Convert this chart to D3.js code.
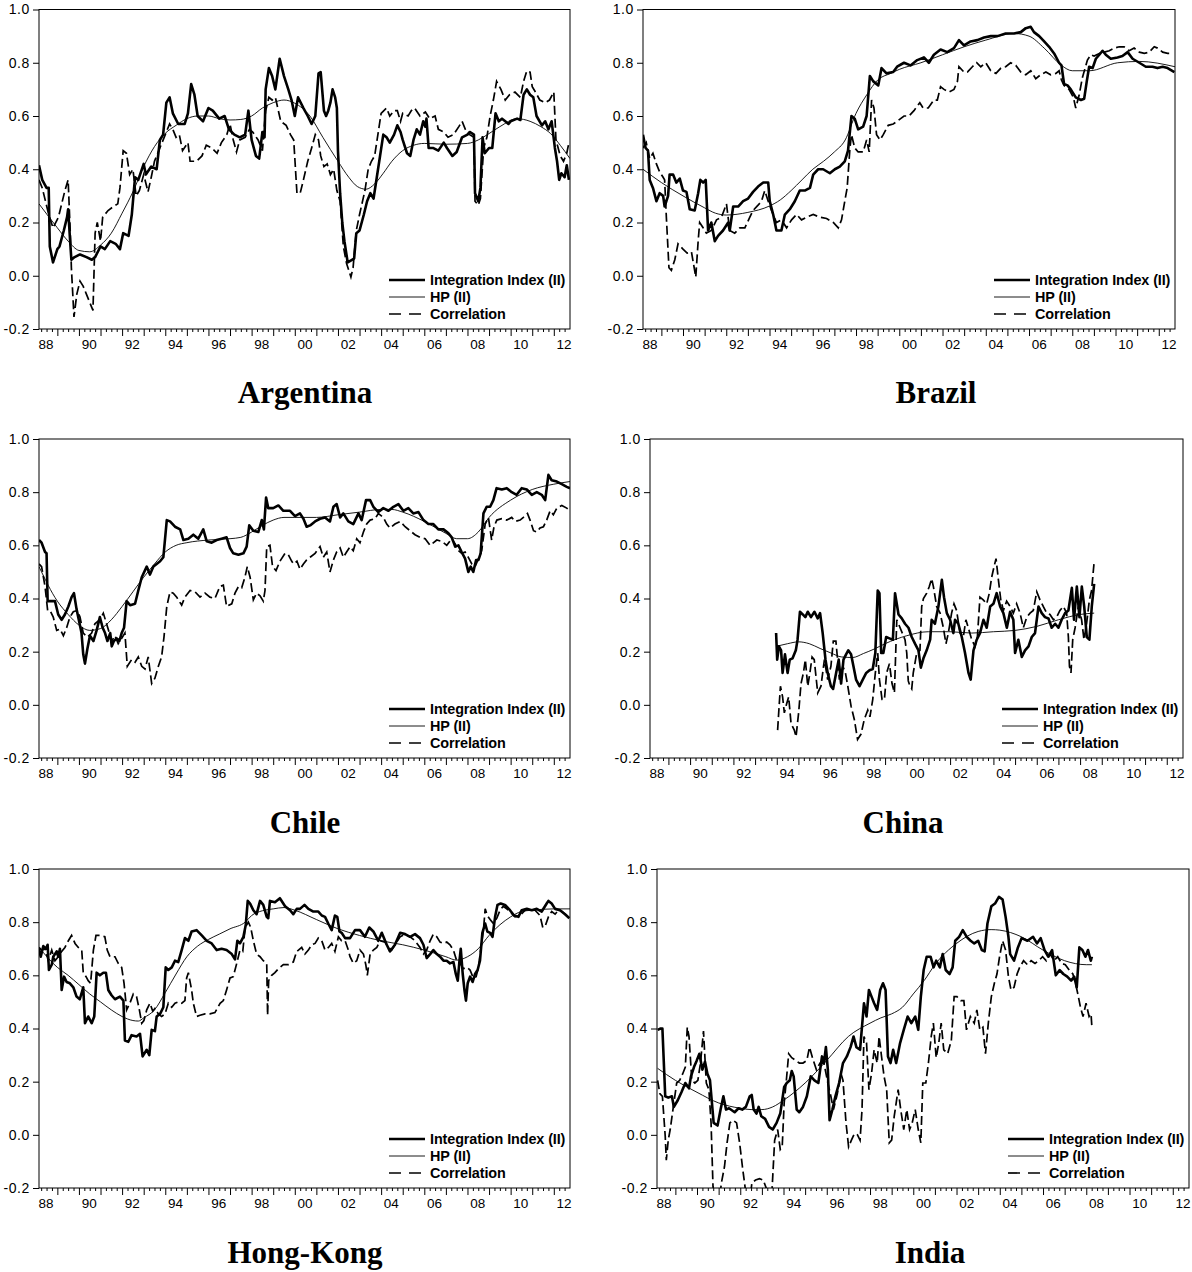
<!DOCTYPE html>
<html>
<head>
<meta charset="utf-8">
<script src="https://cdn.jsdelivr.net/npm/d3@7"></script>
<style>
  body { margin: 0; background: #fff; }
</style>
</head>
<body>
<svg id="chart" width="1192" height="1272"></svg>
<script>
// values, as [decimal year, value]

const argentinaII = [[1988.15,.415],[1988.3,.36],[1988.5,.33],[1988.6,.33],[1988.65,.11],[1988.8,.05],[1989.0,.10],[1989.1,.11],[1989.3,.17],[1989.45,.22],[1989.5,.25],[1989.6,.12],[1989.65,.06],[1989.8,.07],[1990.05,.08],[1990.35,.07],[1990.6,.06],[1990.75,.07],[1991.0,.11],[1991.2,.10],[1991.45,.13],[1991.7,.12],[1991.9,.10],[1992.05,.16],[1992.3,.15],[1992.45,.23],[1992.6,.37],[1992.75,.36],[1993.0,.42],[1993.1,.38],[1993.35,.41],[1993.6,.40],[1993.75,.51],[1993.9,.53],[1994.05,.65],[1994.2,.67],[1994.35,.61],[1994.6,.57],[1994.9,.57],[1995.05,.61],[1995.2,.72],[1995.35,.68],[1995.5,.60],[1995.75,.58],[1996.0,.63],[1996.2,.62],[1996.5,.59],[1996.75,.60],[1996.95,.55],[1997.2,.53],[1997.45,.52],[1997.7,.53],[1997.85,.62],[1998.0,.51],[1998.2,.45],[1998.35,.44],[1998.5,.54],[1998.6,.52],[1998.65,.70],[1998.8,.78],[1998.95,.75],[1999.1,.70],[1999.3,.815],[1999.5,.75],[1999.7,.70],[1999.85,.66],[2000.0,.60],[2000.15,.67],[2000.4,.63],[2000.6,.60],[2000.78,.57],[2000.95,.60],[2001.1,.76],[2001.2,.765],[2001.35,.62],[2001.45,.60],[2001.55,.62],[2001.65,.65],[2001.75,.70],[2001.87,.67],[2001.95,.63],[2002.0,.47],[2002.1,.31],[2002.2,.20],[2002.3,.13],[2002.45,.05],[2002.65,.06],[2002.75,.065],[2002.85,.16],[2003.0,.17],[2003.2,.23],[2003.35,.28],[2003.5,.31],[2003.65,.29],[2003.8,.37],[2003.95,.45],[2004.1,.53],[2004.25,.52],[2004.4,.50],[2004.6,.53],[2004.75,.565],[2004.9,.54],[2005.0,.51],[2005.2,.46],[2005.35,.45],[2005.5,.51],[2005.65,.55],[2005.8,.53],[2005.95,.58],[2006.05,.56],[2006.1,.59],[2006.2,.48],[2006.4,.48],[2006.65,.47],[2006.9,.50],[2007.05,.48],[2007.3,.45],[2007.5,.465],[2007.75,.52],[2008.0,.53],[2008.1,.54],[2008.3,.53],[2008.35,.31],[2008.5,.28],[2008.6,.33],[2008.7,.52],[2008.8,.46],[2009.0,.48],[2009.15,.48],[2009.3,.61],[2009.45,.58],[2009.6,.59],[2009.75,.58],[2009.9,.57],[2010.0,.58],[2010.3,.59],[2010.45,.585],[2010.6,.68],[2010.75,.70],[2010.9,.68],[2011.05,.67],[2011.2,.60],[2011.45,.565],[2011.6,.58],[2011.75,.55],[2011.9,.58],[2012.05,.48],[2012.15,.43],[2012.25,.36],[2012.35,.385],[2012.5,.37],[2012.6,.415],[2012.7,.36]];
const argentinaHP = [[1988.15,.27],[1989,.18],[1989.5,.13],[1990,.095],[1990.5,.09],[1991,.115],[1991.5,.16],[1992,.235],[1992.5,.315],[1993,.41],[1993.5,.485],[1994,.535],[1994.5,.565],[1995,.59],[1995.5,.60],[1996,.60],[1996.5,.59],[1997,.585],[1997.5,.587],[1998,.60],[1998.5,.63],[1999,.65],[1999.5,.66],[2000,.648],[2000.7,.60],[2001.3,.52],[2002,.43],[2002.5,.37],[2002.9,.335],[2003.3,.325],[2003.7,.345],[2004.1,.385],[2004.5,.43],[2005,.47],[2005.5,.49],[2006,.497],[2007,.494],[2008,.497],[2008.5,.51],[2009,.534],[2009.5,.56],[2010.3,.59],[2010.9,.58],[2011.4,.56],[2011.85,.534],[2012.3,.49],[2012.75,.44]];
const argentinaCorr = [[1988.15,.36],[1988.3,.33],[1988.45,.28],[1988.6,.23],[1988.8,.18],[1989.05,.22],[1989.2,.27],[1989.35,.32],[1989.5,.36],[1989.6,.16],[1989.65,.03],[1989.77,-.155],[1989.9,-.07],[1990.05,-.02],[1990.2,-.04],[1990.35,-.07],[1990.5,-.10],[1990.65,-.13],[1990.75,.16],[1990.85,.20],[1991.0,.13],[1991.1,.22],[1991.35,.245],[1991.6,.26],[1991.8,.27],[1991.9,.33],[1992.05,.47],[1992.2,.46],[1992.35,.38],[1992.5,.40],[1992.65,.30],[1992.8,.32],[1993.0,.38],[1993.2,.315],[1993.35,.37],[1993.5,.43],[1993.75,.48],[1994.0,.53],[1994.2,.57],[1994.35,.55],[1994.5,.52],[1994.65,.53],[1994.8,.47],[1995.05,.50],[1995.15,.43],[1995.45,.43],[1995.7,.45],[1995.9,.49],[1996.15,.48],[1996.4,.46],[1996.6,.50],[1996.85,.53],[1997.0,.57],[1997.15,.51],[1997.3,.465],[1997.45,.51],[1997.7,.52],[1997.9,.55],[1998.05,.54],[1998.3,.51],[1998.5,.47],[1998.65,.62],[1998.8,.67],[1998.95,.66],[1999.1,.67],[1999.35,.58],[1999.6,.565],[1999.8,.53],[1999.95,.51],[2000.1,.31],[2000.25,.31],[2000.4,.36],[2000.6,.43],[2000.78,.48],[2000.95,.53],[2001.1,.51],[2001.2,.45],[2001.35,.41],[2001.5,.42],[2001.65,.38],[2001.8,.40],[2001.95,.32],[2002.1,.28],[2002.25,.11],[2002.4,.046],[2002.6,-.005],[2002.7,.03],[2002.85,.17],[2003.0,.23],[2003.25,.32],[2003.4,.40],[2003.55,.43],[2003.7,.45],[2003.85,.53],[2004.0,.61],[2004.25,.63],[2004.4,.60],[2004.6,.62],[2004.75,.62],[2004.9,.58],[2005.0,.61],[2005.25,.60],[2005.4,.62],[2005.55,.63],[2005.8,.60],[2006.05,.615],[2006.25,.59],[2006.5,.60],[2006.65,.55],[2006.9,.54],[2007.1,.52],[2007.35,.53],[2007.6,.56],[2007.75,.58],[2007.9,.55],[2008.1,.53],[2008.3,.52],[2008.35,.28],[2008.5,.265],[2008.6,.29],[2008.75,.48],[2008.9,.52],[2009.05,.60],[2009.2,.66],[2009.35,.73],[2009.55,.70],[2009.75,.66],[2009.95,.68],[2010.2,.69],[2010.45,.67],[2010.6,.73],[2010.75,.77],[2010.9,.765],[2011.0,.71],[2011.15,.69],[2011.35,.66],[2011.6,.65],[2011.8,.66],[2012.0,.69],[2012.1,.51],[2012.3,.45],[2012.45,.43],[2012.6,.46],[2012.7,.50]];

const brazilII = [[1988.15,.53],[1988.27,.48],[1988.38,.47],[1988.46,.36],[1988.61,.33],[1988.77,.28],[1988.92,.31],[1989.08,.30],[1989.15,.26],[1989.31,.30],[1989.38,.38],[1989.54,.38],[1989.69,.35],[1989.85,.365],[1990.0,.32],[1990.16,.315],[1990.31,.25],[1990.54,.245],[1990.7,.31],[1990.8,.36],[1990.93,.35],[1991.05,.36],[1991.16,.17],[1991.31,.20],[1991.47,.13],[1991.62,.15],[1991.85,.17],[1992.09,.20],[1992.16,.17],[1992.32,.26],[1992.55,.26],[1992.78,.28],[1993.01,.29],[1993.24,.315],[1993.47,.335],[1993.71,.35],[1993.94,.35],[1994.01,.28],[1994.17,.23],[1994.32,.17],[1994.55,.17],[1994.71,.23],[1994.94,.25],[1995.17,.28],[1995.4,.32],[1995.63,.32],[1995.87,.33],[1996.02,.38],[1996.25,.40],[1996.48,.40],[1996.79,.385],[1997.02,.40],[1997.25,.41],[1997.48,.43],[1997.63,.47],[1997.79,.60],[1997.94,.59],[1998.1,.55],[1998.33,.56],[1998.49,.60],[1998.64,.75],[1998.8,.73],[1999.03,.715],[1999.18,.78],[1999.41,.76],[1999.72,.765],[1999.9,.785],[2000.22,.80],[2000.52,.79],[2000.83,.81],[2001.14,.82],[2001.37,.80],[2001.6,.83],[2001.91,.85],[2002.22,.84],[2002.53,.855],[2002.76,.885],[2002.99,.865],[2003.3,.88],[2003.61,.885],[2003.92,.895],[2004.23,.90],[2004.54,.90],[2004.92,.91],[2005.31,.91],[2005.62,.915],[2005.85,.93],[2006.08,.935],[2006.23,.915],[2006.47,.90],[2006.7,.88],[2006.93,.86],[2007.16,.835],[2007.39,.80],[2007.5,.79],[2007.62,.72],[2007.78,.715],[2007.93,.70],[2008.16,.67],[2008.4,.66],[2008.55,.665],[2008.67,.73],[2008.78,.785],[2008.94,.78],[2009.09,.815],[2009.25,.83],[2009.4,.845],[2009.55,.83],[2009.78,.815],[2010.09,.82],[2010.32,.825],[2010.56,.84],[2010.79,.815],[2011.1,.80],[2011.4,.785],[2011.71,.785],[2011.94,.78],[2012.18,.785],[2012.41,.78],[2012.72,.765]];
const brazilHP = [[1988.15,.40],[1989,.35],[1990,.30],[1991,.255],[1991.5,.235],[1992,.228],[1993,.238],[1994,.262],[1994.5,.285],[1995,.32],[1995.5,.36],[1996,.40],[1996.5,.43],[1997,.465],[1997.5,.51],[1998,.61],[1998.5,.68],[1999,.735],[1999.6,.76],[2000,.775],[2001,.80],[2002,.83],[2003,.86],[2004,.885],[2005.3,.91],[2006,.90],[2006.7,.855],[2007.5,.79],[2008,.77],[2008.8,.77],[2010.1,.80],[2011.1,.805],[2012.75,.785]];
const brazilCorr = [[1988.15,.48],[1988.3,.50],[1988.46,.44],[1988.61,.46],[1988.77,.42],[1988.92,.39],[1989.08,.37],[1989.15,.36],[1989.23,.22],[1989.35,.03],[1989.46,.02],[1989.62,.06],[1989.77,.12],[1990.0,.10],[1990.19,.085],[1990.39,.09],[1990.59,-.005],[1990.7,.13],[1990.77,.20],[1990.93,.18],[1991.08,.16],[1991.31,.17],[1991.55,.21],[1991.78,.22],[1992.01,.27],[1992.16,.17],[1992.39,.16],[1992.63,.18],[1992.86,.18],[1993.09,.22],[1993.24,.245],[1993.47,.265],[1993.63,.28],[1993.78,.32],[1993.94,.28],[1994.09,.245],[1994.32,.20],[1994.55,.21],[1994.79,.18],[1995.02,.21],[1995.25,.23],[1995.48,.21],[1995.71,.22],[1996.02,.23],[1996.33,.22],[1996.64,.215],[1996.95,.20],[1997.18,.18],[1997.33,.21],[1997.48,.28],[1997.59,.33],[1997.72,.48],[1997.79,.53],[1997.94,.48],[1998.1,.465],[1998.33,.465],[1998.49,.51],[1998.61,.465],[1998.72,.66],[1998.83,.63],[1998.95,.53],[1999.11,.51],[1999.26,.53],[1999.49,.565],[1999.72,.57],[1999.9,.58],[2000.22,.60],[2000.45,.60],[2000.68,.62],[2000.95,.65],[2001.1,.63],[2001.34,.63],[2001.6,.66],[2001.76,.66],[2001.91,.71],[2002.07,.70],[2002.3,.69],[2002.53,.70],[2002.69,.73],[2002.76,.785],[2002.99,.765],[2003.15,.765],[2003.38,.785],[2003.58,.80],[2003.77,.785],[2004.0,.80],[2004.23,.77],[2004.47,.76],[2004.7,.78],[2004.92,.785],[2005.15,.80],[2005.39,.79],[2005.62,.765],[2005.85,.755],[2006.08,.77],[2006.31,.74],[2006.54,.755],[2006.78,.765],[2007.0,.755],[2007.24,.76],[2007.39,.77],[2007.5,.735],[2007.62,.715],[2007.85,.70],[2008.05,.67],[2008.16,.63],[2008.32,.68],[2008.47,.745],[2008.7,.81],[2008.86,.83],[2009.01,.825],[2009.25,.835],[2009.48,.84],[2009.71,.845],[2009.94,.855],[2010.17,.86],[2010.4,.86],[2010.63,.845],[2010.86,.855],[2011.1,.84],[2011.33,.835],[2011.56,.84],[2011.79,.86],[2011.94,.855],[2012.18,.84],[2012.41,.835],[2012.64,.835]];

const chileII = [[1988.15,.62],[1988.27,.61],[1988.43,.575],[1988.5,.57],[1988.55,.39],[1988.74,.39],[1988.89,.39],[1989.04,.34],[1989.2,.32],[1989.35,.34],[1989.51,.37],[1989.66,.405],[1989.77,.42],[1989.89,.36],[1990.02,.31],[1990.12,.27],[1990.2,.19],[1990.28,.155],[1990.39,.21],[1990.51,.26],[1990.67,.24],[1990.82,.28],[1990.97,.33],[1991.1,.29],[1991.21,.27],[1991.32,.24],[1991.45,.27],[1991.52,.22],[1991.62,.24],[1991.75,.25],[1991.87,.24],[1991.98,.27],[1992.09,.29],[1992.21,.39],[1992.37,.375],[1992.6,.38],[1992.75,.43],[1992.91,.48],[1993.14,.52],[1993.29,.49],[1993.45,.52],[1993.6,.53],[1993.76,.54],[1993.91,.555],[1994.07,.695],[1994.22,.69],[1994.45,.67],[1994.69,.66],[1994.84,.62],[1995.07,.625],[1995.3,.64],[1995.53,.625],[1995.76,.66],[1995.92,.615],[1996.15,.61],[1996.38,.62],[1996.61,.625],[1996.84,.63],[1997.0,.59],[1997.15,.57],[1997.39,.565],[1997.62,.57],[1997.77,.595],[1997.89,.675],[1998.08,.655],[1998.31,.65],[1998.47,.695],[1998.57,.66],[1998.67,.78],[1998.77,.74],[1999.0,.74],[1999.24,.75],[1999.47,.73],[1999.78,.73],[2000.01,.71],[2000.24,.72],[2000.4,.70],[2000.55,.67],[2000.71,.675],[2000.94,.69],[2001.17,.70],[2001.4,.705],[2001.63,.69],[2001.79,.745],[2001.94,.755],[2002.1,.705],[2002.25,.72],[2002.48,.69],[2002.71,.68],[2002.95,.72],[2003.1,.695],[2003.3,.77],[2003.49,.77],[2003.64,.745],[2003.87,.725],[2004.1,.74],[2004.34,.73],[2004.57,.745],[2004.8,.755],[2005.03,.73],[2005.26,.74],[2005.49,.72],[2005.73,.725],[2005.96,.695],[2006.19,.68],[2006.42,.68],[2006.65,.66],[2006.89,.66],[2007.12,.645],[2007.27,.63],[2007.43,.595],[2007.58,.60],[2007.73,.575],[2007.89,.55],[2008.04,.50],[2008.15,.52],[2008.27,.50],[2008.4,.545],[2008.51,.545],[2008.61,.57],[2008.74,.72],[2008.89,.745],[2009.05,.745],[2009.2,.77],[2009.35,.815],[2009.59,.81],[2009.82,.815],[2010.05,.80],[2010.28,.79],[2010.51,.815],[2010.75,.81],[2010.98,.79],[2011.21,.80],[2011.44,.79],[2011.6,.77],[2011.75,.865],[2011.9,.845],[2012.14,.84],[2012.37,.83],[2012.6,.82],[2012.75,.815]];
const chileHP = [[1988.15,.52],[1989,.39],[1989.5,.34],[1990,.30],[1990.5,.28],[1991,.287],[1991.5,.32],[1992,.37],[1992.5,.425],[1993,.48],[1993.5,.53],[1994,.575],[1994.5,.60],[1995,.61],[1996,.62],[1997,.625],[1997.5,.63],[1998,.65],[1998.5,.675],[1999,.695],[1999.5,.705],[2000,.705],[2001,.705],[2002,.715],[2003,.725],[2004,.735],[2004.5,.735],[2005,.725],[2006,.69],[2007,.645],[2007.5,.625],[2008,.625],[2008.5,.65],[2009,.705],[2010,.77],[2011,.81],[2012,.83],[2012.75,.84]];
const chileCorr = [[1988.15,.53],[1988.27,.52],[1988.43,.445],[1988.55,.355],[1988.66,.355],[1988.81,.33],[1988.97,.28],[1989.12,.285],[1989.28,.26],[1989.43,.29],[1989.58,.33],[1989.74,.35],[1989.92,.355],[1990.05,.33],[1990.2,.27],[1990.39,.255],[1990.59,.27],[1990.74,.305],[1990.97,.32],[1991.13,.345],[1991.28,.305],[1991.52,.24],[1991.67,.26],[1991.82,.23],[1991.98,.25],[1992.13,.27],[1992.24,.145],[1992.44,.17],[1992.6,.16],[1992.75,.18],[1992.91,.145],[1993.06,.135],[1993.21,.18],[1993.37,.08],[1993.52,.10],[1993.68,.145],[1993.83,.18],[1993.94,.255],[1994.07,.37],[1994.22,.425],[1994.37,.42],[1994.53,.405],[1994.76,.375],[1994.91,.405],[1995.15,.43],[1995.38,.425],[1995.61,.405],[1995.84,.42],[1996.07,.405],[1996.3,.40],[1996.53,.445],[1996.69,.45],[1996.84,.37],[1997.08,.38],[1997.23,.42],[1997.39,.445],[1997.54,.44],[1997.69,.48],[1997.8,.52],[1997.93,.48],[1998.08,.395],[1998.23,.42],[1998.39,.41],[1998.54,.39],[1998.62,.43],[1998.7,.595],[1998.85,.60],[1998.97,.52],[1999.13,.505],[1999.31,.54],[1999.55,.57],[1999.7,.565],[1999.86,.54],[1999.95,.53],[2000.1,.54],[2000.24,.51],[2000.4,.53],[2000.55,.545],[2000.71,.555],[2000.94,.57],[2001.17,.595],[2001.32,.555],[2001.48,.575],[2001.63,.50],[2001.79,.545],[2001.94,.575],[2002.1,.59],[2002.25,.555],[2002.4,.575],[2002.56,.595],[2002.71,.58],[2002.87,.625],[2003.02,.61],[2003.18,.65],[2003.33,.68],[2003.49,.695],[2003.72,.70],[2003.87,.72],[2004.1,.705],[2004.26,.68],[2004.41,.665],[2004.64,.68],[2004.88,.69],[2005.11,.67],[2005.34,.655],[2005.57,.64],[2005.8,.63],[2006.04,.625],[2006.27,.60],[2006.58,.62],[2006.81,.615],[2007.04,.60],[2007.27,.625],[2007.43,.605],[2007.58,.58],[2007.73,.57],[2007.89,.575],[2008.04,.555],[2008.2,.53],[2008.35,.52],[2008.51,.55],[2008.66,.58],[2008.82,.68],[2008.97,.705],[2009.12,.62],[2009.23,.67],[2009.36,.695],[2009.59,.70],[2009.82,.695],[2010.05,.705],[2010.21,.69],[2010.44,.695],[2010.59,.705],[2010.78,.72],[2010.9,.695],[2011.06,.655],[2011.21,.65],[2011.36,.665],[2011.52,.67],[2011.67,.695],[2011.83,.73],[2011.98,.715],[2012.14,.74],[2012.37,.75],[2012.6,.74],[2012.75,.73]];

const chinaII = [[1993.97,.27],[1994.02,.17],[1994.1,.22],[1994.2,.205],[1994.27,.12],[1994.38,.19],[1994.5,.12],[1994.6,.17],[1994.73,.175],[1994.88,.205],[1994.96,.245],[1995.07,.35],[1995.2,.34],[1995.32,.33],[1995.43,.35],[1995.58,.33],[1995.74,.35],[1995.89,.325],[1996.0,.345],[1996.12,.27],[1996.25,.17],[1996.35,.12],[1996.5,.07],[1996.6,.06],[1996.74,.12],[1996.86,.17],[1996.97,.08],[1997.08,.17],[1997.2,.19],[1997.3,.205],[1997.43,.19],[1997.54,.145],[1997.66,.095],[1997.82,.07],[1997.97,.095],[1998.13,.12],[1998.28,.13],[1998.43,.135],[1998.55,.195],[1998.66,.43],[1998.74,.42],[1998.82,.195],[1998.92,.195],[1999.05,.255],[1999.2,.25],[1999.36,.245],[1999.46,.42],[1999.62,.34],[1999.77,.325],[1999.92,.305],[2000.08,.29],[2000.23,.255],[2000.38,.23],[2000.54,.205],[2000.65,.14],[2000.77,.175],[2000.92,.205],[2001.08,.245],[2001.15,.32],[2001.3,.305],[2001.46,.37],[2001.62,.47],[2001.72,.405],[2001.85,.345],[2002.0,.32],[2002.15,.27],[2002.23,.32],[2002.38,.305],[2002.54,.255],[2002.69,.195],[2002.85,.12],[2002.95,.095],[2003.08,.205],[2003.23,.245],[2003.38,.27],[2003.54,.32],[2003.69,.29],[2003.85,.37],[2004.0,.38],[2004.15,.42],[2004.31,.37],[2004.46,.345],[2004.62,.29],[2004.77,.35],[2004.92,.32],[2005.0,.195],[2005.15,.245],[2005.31,.18],[2005.46,.205],[2005.62,.22],[2005.77,.255],[2005.92,.27],[2006.08,.37],[2006.23,.345],[2006.38,.33],[2006.54,.325],[2006.69,.29],[2006.85,.305],[2007.0,.29],[2007.15,.32],[2007.31,.345],[2007.46,.355],[2007.62,.44],[2007.72,.32],[2007.85,.445],[2007.97,.33],[2008.08,.445],[2008.19,.37],[2008.31,.255],[2008.43,.245],[2008.54,.37],[2008.65,.455]];
const chinaHP = [[1993.97,.22],[1994.5,.23],[1995,.237],[1995.5,.23],[1996,.212],[1996.5,.195],[1997,.18],[1997.5,.178],[1998,.193],[1998.5,.21],[1999,.23],[2000,.26],[2001,.275],[2002,.275],[2003,.27],[2004,.275],[2005,.28],[2006,.295],[2007,.32],[2008,.34],[2008.65,.345]];
const chinaCorr = [[1994.04,-.095],[1994.09,-.03],[1994.17,.07],[1994.27,.03],[1994.35,-.03],[1994.46,.005],[1994.55,.03],[1994.66,-.07],[1994.81,-.095],[1994.89,-.12],[1995.01,-.03],[1995.12,.08],[1995.23,.12],[1995.32,.17],[1995.43,.07],[1995.53,.12],[1995.63,.18],[1995.73,.17],[1995.89,.045],[1996.04,.07],[1996.2,.17],[1996.35,.095],[1996.5,.145],[1996.61,.24],[1996.73,.24],[1996.89,.095],[1997.05,.145],[1997.17,.12],[1997.28,.07],[1997.43,-.005],[1997.58,-.055],[1997.73,-.13],[1997.89,-.11],[1998.04,-.055],[1998.2,-.02],[1998.3,-.045],[1998.43,.02],[1998.55,.12],[1998.66,.195],[1998.74,.095],[1998.86,.02],[1998.97,.02],[1999.07,.12],[1999.2,.155],[1999.32,.08],[1999.43,.045],[1999.54,.32],[1999.92,.245],[2000.0,.195],[2000.07,.09],[2000.15,.07],[2000.23,.06],[2000.3,.12],[2000.46,.195],[2000.61,.205],[2000.69,.37],[2000.77,.40],[2000.92,.42],[2001.04,.445],[2001.15,.475],[2001.23,.445],[2001.38,.37],[2001.54,.345],[2001.69,.29],[2001.81,.23],[2001.92,.27],[2002.07,.345],[2002.18,.38],[2002.3,.355],[2002.46,.27],[2002.61,.255],[2002.73,.32],[2002.84,.29],[2003.0,.245],[2003.15,.22],[2003.26,.255],[2003.38,.405],[2003.53,.395],[2003.69,.38],[2003.81,.42],[2003.92,.48],[2004.03,.52],[2004.12,.55],[2004.23,.47],[2004.34,.395],[2004.46,.355],[2004.61,.39],[2004.77,.37],[2004.92,.345],[2005.07,.38],[2005.23,.345],[2005.38,.29],[2005.54,.33],[2005.69,.345],[2005.84,.355],[2006.0,.425],[2006.15,.395],[2006.3,.37],[2006.46,.345],[2006.61,.34],[2006.77,.32],[2006.92,.33],[2007.07,.355],[2007.23,.37],[2007.38,.345],[2007.46,.255],[2007.51,.145],[2007.58,.12],[2007.66,.245],[2007.77,.29],[2007.92,.37],[2008.07,.32],[2008.18,.245],[2008.3,.305],[2008.43,.395],[2008.53,.43],[2008.64,.53]];

const hongKongII = [[1988.15,.70],[1988.23,.67],[1988.35,.71],[1988.47,.70],[1988.55,.715],[1988.61,.62],[1988.74,.64],[1988.81,.67],[1988.97,.69],[1989.04,.67],[1989.12,.70],[1989.2,.545],[1989.31,.595],[1989.43,.575],[1989.58,.57],[1989.74,.555],[1989.89,.52],[1990.04,.51],[1990.2,.555],[1990.28,.42],[1990.43,.445],[1990.59,.42],[1990.71,.445],[1990.82,.61],[1990.97,.60],[1991.13,.61],[1991.25,.61],[1991.36,.545],[1991.51,.525],[1991.67,.51],[1991.9,.52],[1992.06,.505],[1992.13,.355],[1992.29,.35],[1992.44,.375],[1992.67,.37],[1992.83,.38],[1992.95,.295],[1993.14,.32],[1993.26,.30],[1993.37,.395],[1993.52,.39],[1993.6,.445],[1993.76,.455],[1993.91,.48],[1994.02,.63],[1994.14,.62],[1994.3,.63],[1994.45,.655],[1994.6,.65],[1994.76,.695],[1994.91,.74],[1995.07,.73],[1995.22,.765],[1995.45,.77],[1995.69,.75],[1995.92,.73],[1996.15,.72],[1996.38,.695],[1996.61,.70],[1996.84,.695],[1997.08,.68],[1997.23,.66],[1997.34,.73],[1997.46,.72],[1997.62,.745],[1997.73,.79],[1997.82,.88],[1997.93,.87],[1998.08,.845],[1998.23,.83],[1998.39,.88],[1998.54,.865],[1998.7,.82],[1998.77,.815],[1998.85,.88],[1999.08,.875],[1999.31,.89],[1999.55,.86],[1999.78,.845],[1999.93,.83],[2000.09,.85],[2000.24,.85],[2000.45,.865],[2000.63,.85],[2000.86,.84],[2001.09,.84],[2001.25,.825],[2001.4,.82],[2001.55,.795],[2001.71,.77],[2001.86,.825],[2001.97,.82],[2002.07,.765],[2002.17,.76],[2002.33,.74],[2002.56,.74],[2002.79,.77],[2003.02,.77],[2003.25,.745],[2003.45,.78],[2003.64,.765],[2003.87,.73],[2004.03,.76],[2004.26,.715],[2004.41,.69],[2004.64,.715],[2004.88,.76],[2005.11,.755],[2005.34,.745],[2005.57,.755],[2005.8,.74],[2005.96,.715],[2006.11,.665],[2006.27,.68],[2006.42,.695],[2006.58,.68],[2006.73,.67],[2006.89,.655],[2007.04,.655],[2007.19,.645],[2007.35,.65],[2007.46,.605],[2007.55,.58],[2007.63,.655],[2007.69,.70],[2007.78,.605],[2007.86,.545],[2007.93,.505],[2008.01,.57],[2008.12,.595],[2008.24,.575],[2008.35,.605],[2008.47,.62],[2008.58,.655],[2008.69,.76],[2008.82,.795],[2008.92,.765],[2009.05,.76],[2009.16,.745],[2009.28,.82],[2009.39,.865],[2009.54,.87],[2009.74,.865],[2009.97,.845],[2010.16,.825],[2010.36,.82],[2010.51,.845],[2010.75,.85],[2010.98,.845],[2011.21,.85],[2011.44,.84],[2011.67,.87],[2011.75,.88],[2011.9,.87],[2012.06,.85],[2012.29,.845],[2012.52,.83],[2012.72,.815]];
const hongKongHP = [[1988.15,.705],[1989,.63],[1989.5,.60],[1990,.565],[1990.5,.53],[1991,.50],[1991.5,.47],[1992,.445],[1992.5,.43],[1992.75,.428],[1993,.44],[1993.5,.47],[1994,.535],[1994.5,.605],[1995,.67],[1995.5,.71],[1996,.735],[1996.5,.755],[1997,.775],[1997.7,.80],[1998,.825],[1998.5,.843],[1999,.85],[1999.5,.855],[2000,.845],[2001,.81],[2002,.775],[2003,.75],[2004,.73],[2005,.715],[2006,.695],[2007,.67],[2007.5,.657],[2008,.67],[2008.5,.70],[2009,.75],[2009.5,.79],[2010,.82],[2010.5,.84],[2011,.845],[2012,.85],[2012.75,.85]];
const hongKongCorr = [[1988.15,.705],[1988.27,.695],[1988.43,.70],[1988.58,.655],[1988.74,.695],[1988.89,.655],[1989.04,.67],[1989.2,.69],[1989.35,.705],[1989.51,.73],[1989.66,.75],[1989.82,.72],[1989.97,.705],[1990.13,.695],[1990.2,.61],[1990.33,.595],[1990.43,.58],[1990.54,.57],[1990.67,.695],[1990.79,.75],[1990.97,.75],[1991.2,.745],[1991.31,.695],[1991.44,.67],[1991.67,.67],[1991.82,.645],[1991.98,.63],[1992.09,.57],[1992.21,.47],[1992.36,.495],[1992.52,.53],[1992.67,.52],[1992.8,.47],[1992.91,.42],[1993.01,.43],[1993.14,.47],[1993.29,.495],[1993.42,.465],[1993.52,.475],[1993.68,.455],[1993.83,.445],[1993.99,.455],[1994.14,.495],[1994.3,.48],[1994.45,.495],[1994.6,.50],[1994.76,.495],[1994.91,.505],[1994.99,.59],[1995.07,.61],[1995.22,.545],[1995.3,.495],[1995.45,.445],[1995.61,.45],[1995.84,.455],[1996.07,.455],[1996.3,.46],[1996.54,.495],[1996.69,.505],[1996.84,.545],[1997.0,.59],[1997.15,.595],[1997.31,.645],[1997.46,.695],[1997.59,.69],[1997.7,.78],[1997.85,.80],[1997.96,.78],[1998.08,.73],[1998.23,.68],[1998.39,.67],[1998.54,.655],[1998.7,.645],[1998.74,.45],[1998.79,.58],[1998.93,.60],[1999.08,.61],[1999.24,.625],[1999.47,.64],[1999.7,.64],[1999.93,.65],[2000.09,.69],[2000.17,.695],[2000.32,.705],[2000.47,.68],[2000.63,.695],[2000.78,.715],[2000.94,.72],[2001.09,.74],[2001.25,.73],[2001.4,.695],[2001.56,.705],[2001.71,.72],[2001.86,.69],[2002.02,.745],[2002.17,.73],[2002.33,.73],[2002.48,.695],[2002.56,.67],[2002.71,.645],[2002.87,.655],[2003.02,.695],[2003.18,.68],[2003.29,.64],[2003.36,.60],[2003.49,.68],[2003.64,.695],[2003.8,.705],[2003.95,.73],[2004.18,.725],[2004.34,.705],[2004.49,.695],[2004.64,.715],[2004.88,.745],[2005.11,.755],[2005.34,.745],[2005.57,.73],[2005.8,.705],[2005.96,.68],[2006.11,.695],[2006.27,.73],[2006.42,.755],[2006.58,.745],[2006.73,.725],[2006.89,.72],[2007.04,.725],[2007.19,.715],[2007.35,.695],[2007.5,.655],[2007.66,.645],[2007.81,.625],[2007.97,.63],[2008.12,.62],[2008.27,.59],[2008.4,.595],[2008.51,.63],[2008.61,.695],[2008.74,.77],[2008.82,.85],[2008.92,.825],[2009.05,.81],[2009.2,.795],[2009.36,.815],[2009.51,.845],[2009.66,.86],[2009.82,.85],[2009.97,.84],[2010.2,.82],[2010.44,.825],[2010.67,.845],[2010.9,.85],[2011.13,.845],[2011.36,.825],[2011.49,.78],[2011.6,.785],[2011.75,.82],[2011.9,.84],[2012.06,.83],[2012.21,.845],[2012.37,.84],[2012.52,.83],[2012.72,.815]];

const indiaII = [[1988.18,.395],[1988.32,.40],[1988.4,.40],[1988.53,.145],[1988.67,.14],[1988.84,.145],[1988.93,.105],[1989.11,.13],[1989.28,.16],[1989.46,.195],[1989.63,.175],[1989.72,.22],[1989.86,.255],[1989.99,.28],[1990.11,.305],[1990.25,.245],[1990.37,.275],[1990.48,.23],[1990.6,.205],[1990.69,.12],[1990.77,.045],[1990.95,.035],[1991.09,.095],[1991.22,.145],[1991.34,.095],[1991.48,.10],[1991.74,.085],[1991.92,.10],[1992.09,.095],[1992.26,.105],[1992.44,.145],[1992.53,.15],[1992.62,.095],[1992.75,.08],[1992.85,.105],[1992.97,.07],[1993.15,.06],[1993.33,.03],[1993.5,.02],[1993.68,.045],[1993.85,.08],[1994.03,.18],[1994.15,.195],[1994.29,.205],[1994.38,.24],[1994.47,.22],[1994.61,.095],[1994.73,.085],[1994.9,.105],[1995.08,.145],[1995.26,.22],[1995.43,.205],[1995.61,.195],[1995.78,.295],[1995.87,.27],[1995.96,.33],[1996.05,.245],[1996.13,.055],[1996.26,.095],[1996.4,.145],[1996.57,.195],[1996.75,.27],[1996.93,.295],[1997.1,.33],[1997.24,.37],[1997.37,.33],[1997.54,.32],[1997.72,.495],[1997.84,.445],[1997.95,.545],[1998.07,.52],[1998.19,.495],[1998.33,.47],[1998.47,.545],[1998.6,.57],[1998.72,.545],[1998.83,.295],[1998.95,.27],[1999.07,.32],[1999.21,.27],[1999.39,.345],[1999.56,.395],[1999.74,.445],[1999.91,.42],[2000.09,.445],[2000.23,.395],[2000.35,.52],[2000.48,.62],[2000.62,.67],[2000.8,.67],[2000.94,.63],[2001.06,.655],[2001.23,.63],[2001.36,.68],[2001.5,.62],[2001.68,.605],[2001.82,.63],[2001.94,.73],[2002.12,.745],[2002.29,.77],[2002.47,.745],[2002.65,.73],[2002.82,.72],[2003.0,.73],[2003.17,.695],[2003.3,.69],[2003.43,.795],[2003.61,.86],[2003.78,.87],[2003.96,.895],[2004.13,.885],[2004.27,.82],[2004.4,.745],[2004.48,.68],[2004.66,.655],[2004.84,.705],[2005.01,.74],[2005.28,.73],[2005.54,.745],[2005.72,.72],[2005.89,.74],[2006.07,.695],[2006.24,.67],[2006.42,.695],[2006.59,.60],[2006.77,.62],[2006.94,.605],[2007.12,.595],[2007.3,.58],[2007.44,.595],[2007.56,.555],[2007.68,.705],[2007.82,.695],[2007.96,.67],[2008.08,.695],[2008.21,.655],[2008.26,.67]];
const indiaHP = [[1988.18,.25],[1989,.205],[1990,.16],[1991,.12],[1992,.10],[1992.5,.095],[1993,.095],[1993.5,.105],[1994,.13],[1995,.195],[1996,.28],[1997,.37],[1998,.42],[1998.5,.44],[1999,.455],[1999.5,.48],[2000,.53],[2000.5,.58],[2001,.64],[2002,.72],[2003,.765],[2003.6,.772],[2004,.77],[2005,.745],[2006,.695],[2007,.655],[2008,.64],[2008.26,.64]];
const indiaCorr = [[1988.18,.205],[1988.28,.155],[1988.4,.145],[1988.53,-.005],[1988.58,-.095],[1988.67,-.02],[1988.76,.02],[1988.93,.12],[1989.06,.195],[1989.2,.205],[1989.34,.23],[1989.46,.255],[1989.55,.405],[1989.63,.37],[1989.76,.205],[1989.9,.195],[1990.04,.205],[1990.16,.27],[1990.3,.39],[1990.43,.195],[1990.55,.17],[1990.65,.045],[1990.74,-.195],[1990.95,-.30],[1991.13,-.18],[1991.27,-.12],[1991.39,-.03],[1991.52,.045],[1991.66,.055],[1991.83,.045],[1991.97,-.03],[1992.1,-.12],[1992.22,-.195],[1992.36,-.30],[1992.54,-.18],[1992.71,-.17],[1992.89,-.165],[1993.06,-.17],[1993.2,-.20],[1993.41,-.30],[1993.59,-.02],[1993.73,.02],[1993.85,-.055],[1993.94,-.045],[1994.03,.12],[1994.12,.195],[1994.24,.305],[1994.38,.29],[1994.56,.28],[1994.73,.27],[1994.9,.27],[1995.08,.28],[1995.2,.33],[1995.34,.29],[1995.52,.245],[1995.69,.27],[1995.87,.27],[1996.05,.195],[1996.19,.145],[1996.31,.095],[1996.49,.155],[1996.66,.23],[1996.75,.205],[1996.89,.045],[1997.01,-.045],[1997.14,-.02],[1997.28,.005],[1997.42,0],[1997.54,-.02],[1997.63,.095],[1997.72,.37],[1997.84,.345],[1997.95,.17],[1998.07,.23],[1998.19,.32],[1998.33,.27],[1998.42,.37],[1998.54,.29],[1998.65,.22],[1998.77,.17],[1998.89,-.03],[1999.0,-.02],[1999.12,.07],[1999.3,.17],[1999.42,.095],[1999.56,.02],[1999.7,.095],[1999.83,.02],[1999.95,.045],[2000.09,.095],[2000.23,.02],[2000.35,-.03],[2000.44,.195],[2000.58,.195],[2000.7,.27],[2000.83,.37],[2000.93,.42],[2001.06,.29],[2001.18,.345],[2001.29,.42],[2001.41,.32],[2001.59,.305],[2001.76,.355],[2001.89,.52],[2002.02,.52],[2002.2,.505],[2002.34,.505],[2002.46,.395],[2002.64,.445],[2002.82,.42],[2002.94,.47],[2003.08,.395],[2003.22,.405],[2003.34,.305],[2003.47,.42],[2003.61,.52],[2003.75,.57],[2003.87,.605],[2003.99,.67],[2004.13,.73],[2004.27,.695],[2004.4,.595],[2004.52,.545],[2004.66,.555],[2004.8,.605],[2004.92,.63],[2005.1,.655],[2005.28,.64],[2005.45,.655],[2005.63,.645],[2005.8,.655],[2005.98,.67],[2006.15,.655],[2006.33,.68],[2006.51,.655],[2006.68,.67],[2006.86,.645],[2007.03,.64],[2007.21,.62],[2007.38,.605],[2007.5,.57],[2007.61,.53],[2007.73,.48],[2007.85,.445],[2007.99,.495],[2008.13,.445],[2008.22,.455],[2008.26,.405]];

const yTicks = [-0.2, 0.0, 0.2, 0.4, 0.6, 0.8, 1.0];
const labelYears = [1988, 1990, 1992, 1994, 1996, 1998, 2000, 2002, 2004, 2006, 2008, 2010, 2012];
const yearLabels = ["88", "90", "92", "94", "96", "98", "00", "02", "04", "06", "08", "10", "12"];
const legendLabels = ["Integration Index (II)", "HP (II)", "Correlation"];
const sample = [1988.15, 2012.75];  // 1988M02 .. 2012M09

const panels = [
  {title: "Argentina", ii: argentinaII, hp: argentinaHP, corr: argentinaCorr, left: 39, right: 570, top: 9.5, bottom: 329, tx: 305, ty: 403},
  {title: "Brazil",    ii: brazilII,    hp: brazilHP,    corr: brazilCorr,    left: 643, right: 1175, top: 9.5, bottom: 329, tx: 936, ty: 403},
  {title: "Chile",     ii: chileII,     hp: chileHP,     corr: chileCorr,     left: 39, right: 570, top: 439, bottom: 758, tx: 305, ty: 833},
  {title: "China",     ii: chinaII,     hp: chinaHP,     corr: chinaCorr,     left: 650, right: 1183, top: 439, bottom: 758, tx: 903, ty: 833},
  {title: "Hong-Kong", ii: hongKongII,  hp: hongKongHP,  corr: hongKongCorr,  left: 39, right: 570, top: 869, bottom: 1188, tx: 305, ty: 1263},
  {title: "India",     ii: indiaII,     hp: indiaHP,     corr: indiaCorr,     left: 657, right: 1189, top: 869, bottom: 1188, tx: 930, ty: 1263}
];

const styles = [
  {width: 2.6, dash: null,  legendDash: null},
  {width: 0.9, dash: null,  legendDash: null},
  {width: 1.7, dash: "9,4", legendDash: "12,8"}
];

const sans = "Arial, 'Liberation Sans', sans-serif";
const serif = "'Times New Roman', 'Liberation Serif', serif";
const svg = d3.select("#chart");

panels.forEach((p, i) => drawPanel(p, i));

function drawPanel(p, i) {
  const x = d3.scaleLinear().domain(sample).range([p.left, p.right]);
  const y = d3.scaleLinear().domain([-0.2, 1.0]).range([p.bottom, p.top]);
  const g = svg.append("g");

  g.append("clipPath").attr("id", "clip" + i)
    .append("rect")
    .attr("x", p.left).attr("y", p.top)
    .attr("width", p.right - p.left).attr("height", p.bottom - p.top);

  // y axis
  const ya = g.append("g")
    .attr("transform", "translate(" + p.left + ",0)")
    .call(d3.axisLeft(y).tickValues(yTicks).tickSize(6).tickPadding(3)
      .tickFormat(d => d.toFixed(1)));
  ya.select(".domain").remove();
  ya.selectAll(".tick text").style("font-size", "14px").style("letter-spacing", "0.6px");

  // x axis: quarters, years, labels
  const quarters = d3.range(Math.ceil(sample[0] * 4) / 4, sample[1], 0.25).filter(q => q % 1 !== 0);
  const years = d3.range(Math.ceil(sample[0]), sample[1]);
  const xq = g.append("g").attr("transform", "translate(0," + p.bottom + ")")
    .call(d3.axisBottom(x).tickValues(quarters).tickSize(3).tickFormat(""));
  xq.select(".domain").remove();
  const xy = g.append("g").attr("transform", "translate(0," + p.bottom + ")")
    .call(d3.axisBottom(x).tickValues(years).tickSize(7).tickFormat(""));
  xy.select(".domain").remove();
  const xl = g.append("g").attr("transform", "translate(0," + p.bottom + ")")
    .call(d3.axisBottom(x).tickValues(labelYears.map(yr => yr + 0.45)).tickSize(0).tickPadding(10)
      .tickFormat((d, k) => yearLabels[k]));
  xl.select(".domain").remove();
  xl.selectAll(".tick text").style("font-size", "13.5px");

  g.selectAll(".tick text").style("font-family", sans).attr("fill", "#000");
  g.selectAll(".tick line").attr("stroke", "#000");

  // frame
  g.append("rect")
    .attr("x", p.left).attr("y", p.top)
    .attr("width", p.right - p.left).attr("height", p.bottom - p.top)
    .attr("fill", "none").attr("stroke", "#000").attr("stroke-width", 1);

  const line = d3.line().x(d => x(d[0])).y(d => y(d[1]));
  const smooth = d3.line().x(d => x(d[0])).y(d => y(d[1])).curve(d3.curveMonotoneX);
  const lines = g.append("g").attr("clip-path", "url(#clip" + i + ")");

  lines.append("path").datum(p.corr)
    .attr("fill", "none").attr("stroke", "#000")
    .attr("stroke-width", styles[2].width).attr("stroke-dasharray", styles[2].dash)
    .attr("d", line);
  lines.append("path").datum(p.hp)
    .attr("fill", "none").attr("stroke", "#000")
    .attr("stroke-width", styles[1].width)
    .attr("d", smooth);
  lines.append("path").datum(p.ii)
    .attr("fill", "none").attr("stroke", "#000")
    .attr("stroke-width", styles[0].width).attr("stroke-linejoin", "round")
    .attr("d", line);

  // legend, bottom right inside the frame
  const lg = g.append("g");
  legendLabels.forEach((lab, k) => {
    const cy = p.bottom - 49 + k * 17;
    lg.append("line")
      .attr("x1", p.right - 181).attr("x2", p.right - 145)
      .attr("y1", cy).attr("y2", cy)
      .attr("stroke", "#000").attr("stroke-width", styles[k].width)
      .attr("stroke-dasharray", styles[k].legendDash);
    lg.append("text")
      .attr("x", p.right - 140).attr("y", cy + 5)
      .style("font-family", sans).style("font-size", "14.4px")
      .style("font-weight", "bold").style("letter-spacing", "-0.1px")
      .text(lab);
  });

  // country name
  svg.append("text")
    .attr("x", p.tx).attr("y", p.ty)
    .attr("text-anchor", "middle")
    .style("font-family", serif)
    .style("font-weight", "bold").style("font-size", "31px")
    .text(p.title);
}
</script>
</body>
</html>
